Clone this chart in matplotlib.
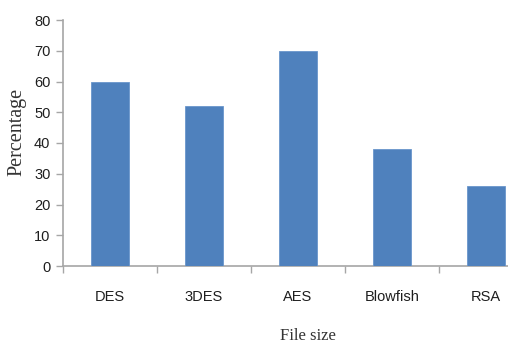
import matplotlib
matplotlib.use("Agg")
import matplotlib.pyplot as plt
import numpy as np

algorithms = ["DES", "3DES", "AES", "Blowfish", "RSA"]
percentage = [60, 52, 70, 38, 26]
y_ticks = [0, 10, 20, 30, 40, 50, 60, 70, 80]

W, H = 508, 347
fig = plt.figure(figsize=(W / 100, H / 100), dpi=100)
fig.patch.set_facecolor("white")

# axis spans past the right edge of the canvas
ax = fig.add_axes([63 / W, 1 - 266 / H, 470 / W, 246 / H])

x = np.arange(len(algorithms))
ax.bar(x, percentage, width=0.4, color="#4F81BD", edgecolor="#6a96cc", linewidth=0.6, zorder=3)

ax.set_xlim(-0.5, len(algorithms) - 0.5)
ax.set_ylim(0, 80)

sans = ["Liberation Sans", "DejaVu Sans"]
serif = ["Liberation Serif", "DejaVu Serif"]
grey = "#a6a6a6"
ink = "#1e1e1e"

for side in ["top", "right"]:
    ax.spines[side].set_visible(False)
for side in ["left", "bottom"]:
    ax.spines[side].set_color(grey)
    ax.spines[side].set_linewidth(1.2)

ax.set_yticks(y_ticks)
ax.set_yticklabels([str(v) for v in y_ticks], family=sans, fontsize=10.5, color=ink)
ax.tick_params(axis="y", direction="out", length=5, width=1, color=grey, pad=4)

# category boundaries carry the x ticks, labels sit at the centres
ax.set_xticks(np.arange(len(algorithms) + 1) - 0.5)
ax.set_xticklabels([])
ax.tick_params(axis="x", direction="out", length=5, width=1, color=grey)
for xi, name in zip(x, algorithms):
    ax.text(xi, -10, name, ha="center", va="center", family=sans, fontsize=10.5, color=ink)

fig.text(17 / W, 1 - 132 / H, "Percentage", rotation=90, ha="center", va="center",
         family=serif, fontsize=14.5, color="#333333")
fig.text(308 / W, 1 - 336 / H, "File size", ha="center", va="center",
         family=serif, fontsize=12, color="#333333")

fig.savefig("out.png", dpi=100, facecolor="white")
